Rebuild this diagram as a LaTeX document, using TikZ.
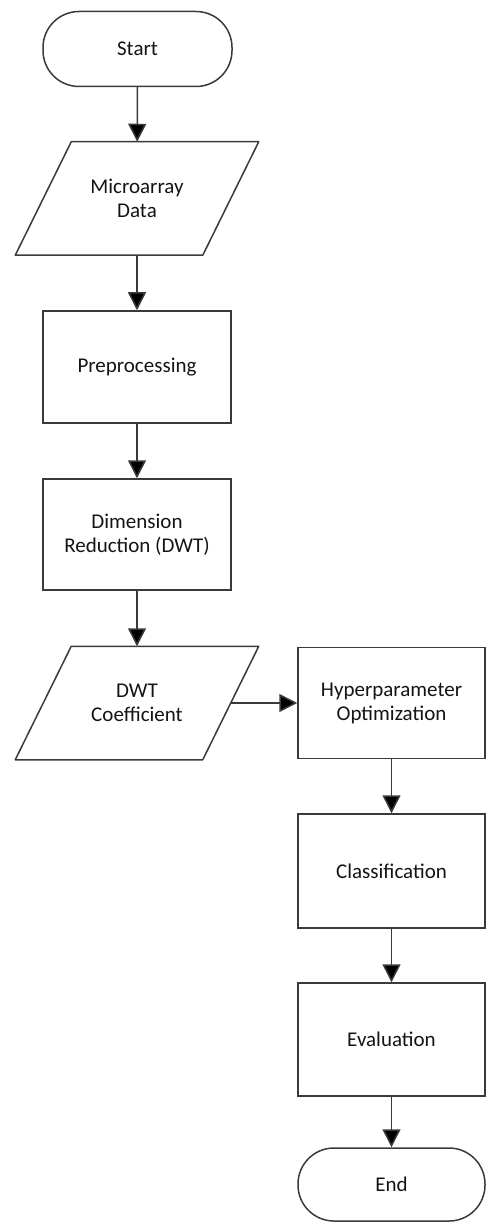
\documentclass[tikz,border=0pt]{standalone}
\usepackage{fontspec}
\setmainfont{Carlito}
\usetikzlibrary{arrows.meta}
\definecolor{edge}{HTML}{3A3A3A}
\definecolor{txt}{HTML}{141414}
\begin{document}
\begin{tikzpicture}[x=1pt,y=-1pt,
  base/.style={font=\fontsize{21}{24}\selectfont, text=txt, align=center, line width=1.5pt, draw=edge},
  term/.style={base, rounded corners=36pt, minimum width=189pt, minimum height=75pt, inner sep=0pt},
  proc/.style={base, rectangle, minimum width=188pt, minimum height=112pt, inner sep=0pt},
  io/.style={base, draw=none, rectangle, minimum width=186pt, minimum height=112pt, inner sep=0pt},
  conn/.style={line width=1.5pt, draw=edge, -{Triangle[width=18pt,length=18pt,fill=black]}},
  parallel/.style={line width=1.5pt, draw=edge, line join=round}
]
\useasboundingbox (0,0) rectangle (486,1222);

\node[term] (start) at (137.5,49) {Start};
\node[io] (micro) at (137,198.5) {Microarray\\Data};
\draw[parallel] ([xshift=28pt]micro.north west) -- ([xshift=28pt]micro.north east)
  -- ([xshift=-28pt]micro.south east) -- ([xshift=-28pt]micro.south west) -- cycle;
\node[proc] (pre) at (137,367) {Preprocessing};
\node[proc, minimum height=111pt] (dim) at (137,534.5) {Dimension\\Reduction (DWT)};
\node[io, minimum height=112pt] (dwt) at (137,703) {DWT\\Coefficient};
\draw[parallel] ([xshift=28pt]dwt.north west) -- ([xshift=28pt]dwt.north east)
  -- ([xshift=-28pt]dwt.south east) -- ([xshift=-28pt]dwt.south west) -- cycle;
\node[proc, minimum width=187pt, minimum height=111pt] (hyp) at (391.5,703) {Hyperparameter\\Optimization};
\node[proc, minimum width=187pt, minimum height=114pt] (cls) at (391.5,871) {Classification};
\node[proc, minimum width=187pt, minimum height=113pt] (eva) at (391.5,1039.5) {Evaluation};
\node[term, minimum width=187pt, minimum height=73pt] (end) at (391.5,1184.5) {End};

\draw[conn] (start) -- (micro);
\draw[conn] (micro) -- (pre);
\draw[conn] (pre) -- (dim);
\draw[conn] (dim) -- (dwt);
\draw[conn] (dwt.east) -- (hyp.west);
\draw[conn] (hyp) -- (cls);
\draw[conn] (cls) -- (eva);
\draw[conn] (eva) -- (end);
\end{tikzpicture}
\end{document}
